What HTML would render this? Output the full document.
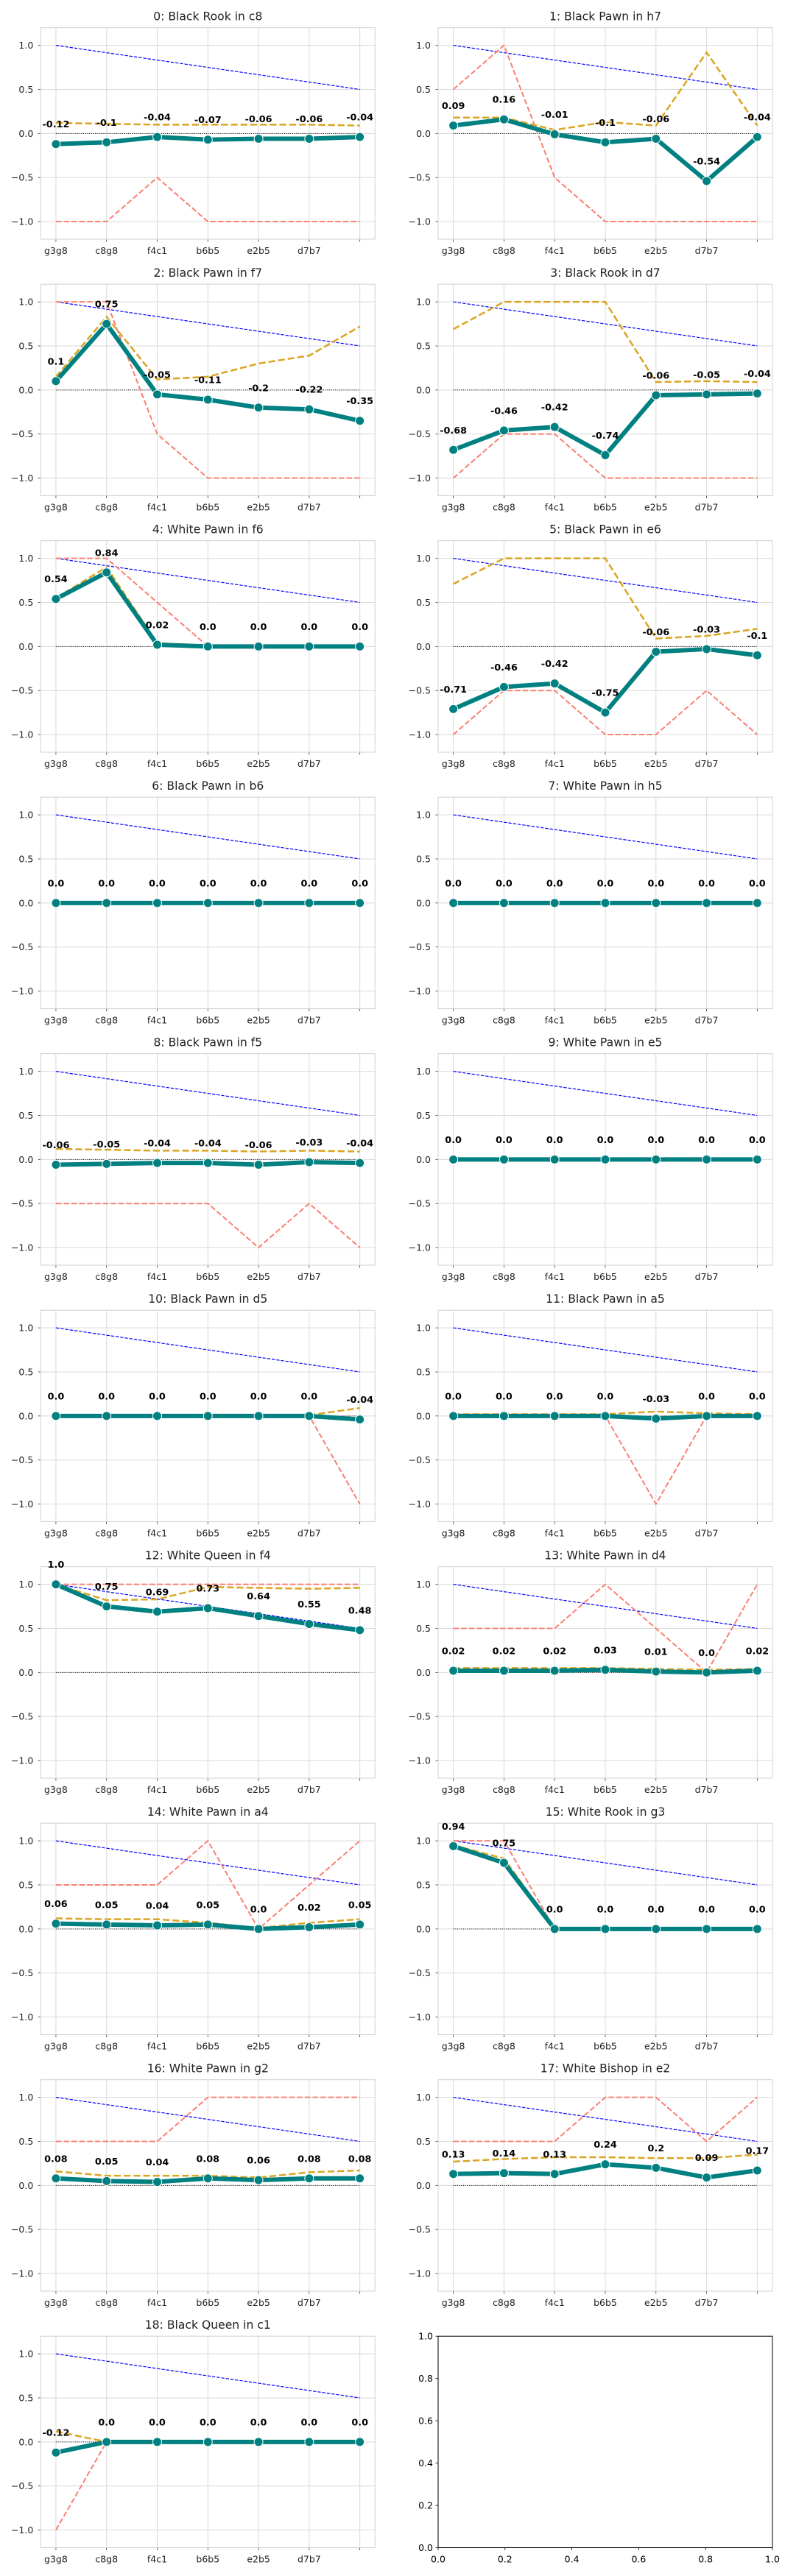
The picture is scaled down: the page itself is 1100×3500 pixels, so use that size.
<!DOCTYPE html>
<html><head><meta charset="utf-8">
<style>
html,body{margin:0;padding:0;background:#fff;}
svg{display:block;font-family:"DejaVu Sans","Liberation Sans",sans-serif;}
</style></head>
<body>
<svg id="fig" width="1100" height="3500" viewBox="0 0 1100 3500" xmlns="http://www.w3.org/2000/svg"></svg>
<script>
const titles = ["0: Black Rook in c8","1: Black Pawn in h7","2: Black Pawn in f7","3: Black Rook in d7","4: White Pawn in f6","5: Black Pawn in e6","6: Black Pawn in b6","7: White Pawn in h5","8: Black Pawn in f5","9: White Pawn in e5","10: Black Pawn in d5","11: Black Pawn in a5","12: White Queen in f4","13: White Pawn in d4","14: White Pawn in a4","15: White Rook in g3","16: White Pawn in g2","17: White Bishop in e2","18: Black Queen in c1"];
const xLabels = ["g3g8","c8g8","f4c1","b6b5","e2b5","d7b7",""];
const yTicks = [-1.0,-0.5,0.0,0.5,1.0];
const emptyTicks = [0.0,0.2,0.4,0.6,0.8,1.0];
const refLine = [1.0,0.9167,0.8333,0.75,0.6667,0.5833,0.5];
const scoreValues = [
 [-0.12,-0.1,-0.04,-0.07,-0.06,-0.06,-0.04],
 [0.09,0.16,-0.01,-0.1,-0.06,-0.54,-0.04],
 [0.1,0.75,-0.05,-0.11,-0.2,-0.22,-0.35],
 [-0.68,-0.46,-0.42,-0.74,-0.06,-0.05,-0.04],
 [0.54,0.84,0.02,0,0,0,0],
 [-0.71,-0.46,-0.42,-0.75,-0.06,-0.03,-0.1],
 [0,0,0,0,0,0,0],
 [0,0,0,0,0,0,0],
 [-0.06,-0.05,-0.04,-0.04,-0.06,-0.03,-0.04],
 [0,0,0,0,0,0,0],
 [0,0,0,0,0,0,-0.04],
 [0,0,0,0,-0.03,0,0],
 [1.0,0.75,0.69,0.73,0.64,0.55,0.48],
 [0.02,0.02,0.02,0.03,0.01,0,0.02],
 [0.06,0.05,0.04,0.05,0,0.02,0.05],
 [0.94,0.75,0,0,0,0,0],
 [0.08,0.05,0.04,0.08,0.06,0.08,0.08],
 [0.13,0.14,0.13,0.24,0.2,0.09,0.17],
 [-0.12,0,0,0,0,0,0]
];
const orangeValues = [
 [0.12,0.11,0.10,0.10,0.10,0.10,0.09],
 [0.18,0.18,0.04,0.13,0.09,0.92,0.09],
 [0.15,0.83,0.12,0.15,0.3,0.39,0.72],
 [0.69,1,1,1,0.09,0.1,0.09],
 [0.55,0.9,0.04,0,0,0,0],
 [0.71,1,1,1,0.09,0.12,0.2],
 [0,0,0,0,0,0,0],
 [0,0,0,0,0,0,0],
 [0.12,0.11,0.10,0.10,0.09,0.10,0.09],
 [0,0,0,0,0,0,0],
 [0,0,0,0,0,0.01,0.09],
 [0.02,0.02,0.02,0.02,0.05,0.03,0.02],
 [1,0.82,0.83,0.97,0.96,0.95,0.96],
 [0.05,0.05,0.05,0.05,0.04,0.03,0.04],
 [0.12,0.11,0.11,0.07,0.01,0.07,0.11],
 [0.95,0.8,0,0,0,0,0],
 [0.16,0.11,0.11,0.11,0.09,0.15,0.17],
 [0.27,0.3,0.32,0.32,0.31,0.31,0.35],
 [0.12,0,0,0,0,0,0]
];
const salmonValues = [
 [-1,-1,-0.5,-1,-1,-1,-1],
 [0.5,1,-0.5,-1,-1,-1,-1],
 [1,1,-0.5,-1,-1,-1,-1],
 [-1,-0.5,-0.5,-1,-1,-1,-1],
 [1,1,0.5,0,0,0,0],
 [-1,-0.5,-0.5,-1,-1,-0.5,-1],
 [0,0,0,0,0,0,0],
 [0,0,0,0,0,0,0],
 [-0.5,-0.5,-0.5,-0.5,-1,-0.5,-1],
 [0,0,0,0,0,0,0],
 [0,0,0,0,0,0,-1],
 [0,0,0,0,-1,0,0],
 [1,1,1,1,1,1,1],
 [0.5,0.5,0.5,1,0.5,0,1],
 [0.5,0.5,0.5,1,0,0.5,1],
 [1,1,0,0,0,0,0],
 [0.5,0.5,0.5,1,1,1,1],
 [0.5,0.5,0.5,1,1,0.5,1],
 [-1,0,0,0,0,0,0]
];

const NS="http://www.w3.org/2000/svg";
const fig=document.getElementById('fig');
function mk(tag,attrs,parent){const e=document.createElementNS(NS,tag);for(const k in attrs)e.setAttribute(k,attrs[k]);(parent||fig).appendChild(e);return e;}
const TOP0=37.7, PITCH=348.5, AH=287.3;
const LEFTS=[55.3,595], AW=454;
function fmt(v){return Number.isInteger(v)?v.toFixed(1):String(v);}
function tickFmt(v){return v.toFixed(1).replace('-','\u2212');}

function drawPlot(i){
  const col=i%2,row=Math.floor(i/2);
  const L=LEFTS[col],T=TOP0+row*PITCH;
  const xs=v=>L+(v+0.3)/6.6*AW;
  const ys=v=>T+(1.2-v)/2.4*AH;
  const g=mk('g',{});
  
  
  const t=mk('text',{x:L+AW/2,y:T-15,'text-anchor':'middle','dominant-baseline':'central','font-size':'15.6',fill:'#222'},g);
  t.textContent=titles[i];
  
  
  // grid
  xLabels.forEach((lab,k)=>{
    mk('line',{x1:xs(k),x2:xs(k),y1:T,y2:T+AH,stroke:'#d9d9d9','stroke-width':1},g);
    mk('line',{x1:xs(k),x2:xs(k),y1:T+AH,y2:T+AH+3.5,stroke:'#333','stroke-width':0.8},g);
    const xt=mk('text',{x:xs(k),y:T+AH+15.7,'text-anchor':'middle','dominant-baseline':'central','font-size':'12.5',fill:'#222'},g);
    xt.textContent=lab;
    
    
  });
  yTicks.forEach(v=>{
    mk('line',{x1:L,x2:L+AW,y1:ys(v),y2:ys(v),stroke:'#d9d9d9','stroke-width':1},g);
    mk('line',{x1:L-3.5,x2:L,y1:ys(v),y2:ys(v),stroke:'#333','stroke-width':0.8},g);
    const yt=mk('text',{x:L-10,y:ys(v),'text-anchor':'end','dominant-baseline':'central','font-size':'12.5',fill:'#222'},g);
    yt.textContent=tickFmt(v);
    
    
  });
  mk('rect',{x:L,y:T,width:AW,height:AH,fill:'none',stroke:'#d0d0d0','stroke-width':1},g);
  const pts=arr=>arr.map((v,k)=>xs(k).toFixed(2)+','+ys(v).toFixed(2)).join(' ');
  const zl=mk('line',{x1:xs(0),x2:xs(6),y1:ys(0),y2:ys(0),stroke:'#000','stroke-width':1,'stroke-dasharray':'1,1.65'},g);
  
  
  const bl=mk('polyline',{points:pts(refLine),fill:'none',stroke:'#0000ff','stroke-width':1.2,'stroke-dasharray':'4.4,1.9'},g);
  
  
  const sl=mk('polyline',{points:pts(salmonValues[i]),fill:'none',stroke:'#fa8072','stroke-width':2,'stroke-dasharray':'7.4,3.2'},g);
  
  
  const ol=mk('polyline',{points:pts(orangeValues[i]),fill:'none',stroke:'#daa520','stroke-width':2.5,'stroke-dasharray':'9.2,4'},g);
  
  
  const tl=mk('polyline',{points:pts(scoreValues[i]),fill:'none',stroke:'#008080','stroke-width':6,'stroke-linejoin':'round'},g);
  
  
  scoreValues[i].forEach((v,k)=>{
    const c=mk('circle',{cx:xs(k),cy:ys(v),r:6,fill:'#008080',stroke:'#fff','stroke-width':1},g);
    
    
  });
  scoreValues[i].forEach((v,k)=>{
    const lb=mk('text',{x:xs(k),y:ys(v)-26,'text-anchor':'middle','dominant-baseline':'central','font-size':'12.8','font-weight':'bold',fill:'#000'},g);
    lb.textContent=fmt(v);
    
    
  });
}
for(let i=0;i<titles.length;i++) drawPlot(i);

// empty axes
(function(){
  const L=LEFTS[1],T=TOP0+9*PITCH;
  const xs=v=>L+v*AW, ys=v=>T+(1-v)*AH;
  const g=mk('g',{});
  
  
  mk('rect',{x:L,y:T,width:AW,height:AH,fill:'none',stroke:'#000','stroke-width':1},g);
  emptyTicks.forEach(v=>{
    mk('line',{x1:xs(v),x2:xs(v),y1:T+AH,y2:T+AH+3.5,stroke:'#000','stroke-width':0.8},g);
    const xt=mk('text',{x:xs(v),y:T+AH+15.7,'text-anchor':'middle','dominant-baseline':'central','font-size':'12.5',fill:'#000'},g);
    xt.textContent=v.toFixed(1);
    
    
    mk('line',{x1:L-3.5,x2:L,y1:ys(v),y2:ys(v),stroke:'#000','stroke-width':0.8},g);
    const yt=mk('text',{x:L-7,y:ys(v),'text-anchor':'end','dominant-baseline':'central','font-size':'12.5',fill:'#000'},g);
    yt.textContent=v.toFixed(1);
    
    
  });
})();
</script>
</body></html>
